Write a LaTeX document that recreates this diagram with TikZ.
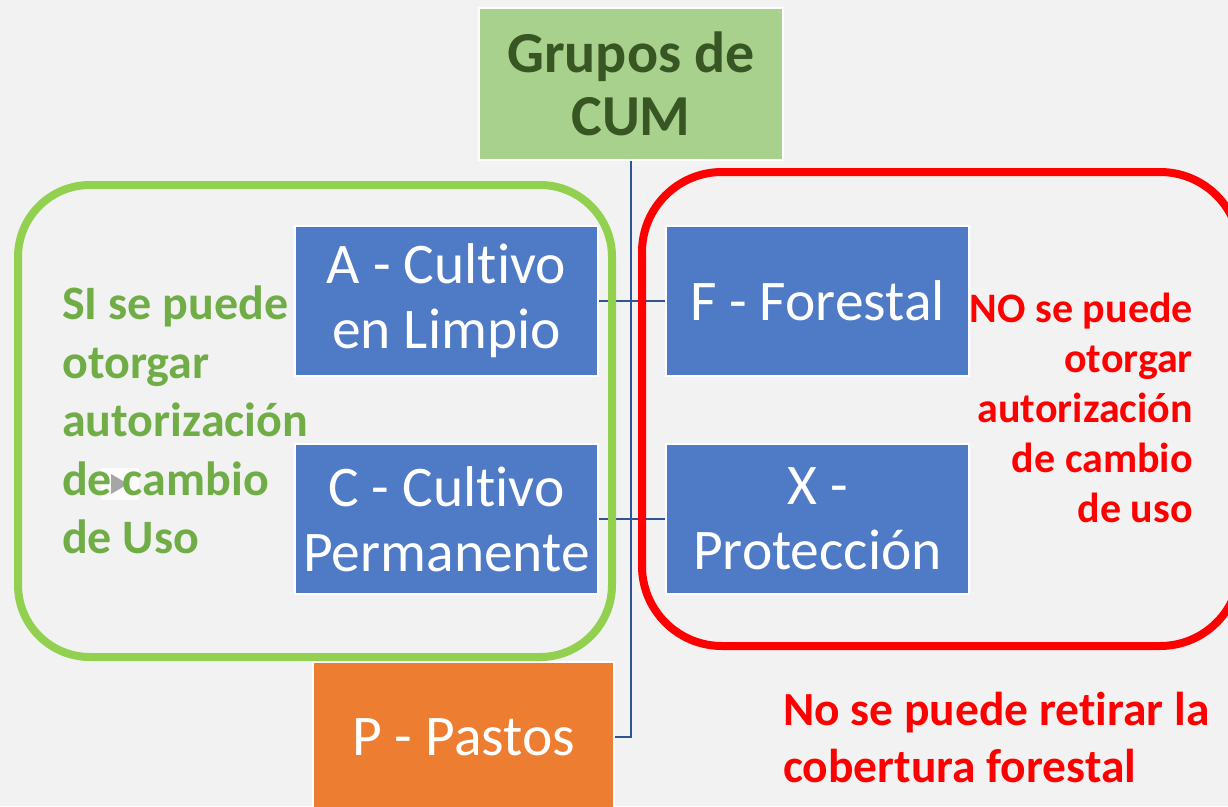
\documentclass[tikz,border=0pt]{standalone}
\usepackage{fontspec}
\setmainfont{Carlito}[Ligatures=NoCommon]
\usetikzlibrary{positioning}

\definecolor{fondo}{HTML}{F2F2F2}
\definecolor{azul}{HTML}{4F7AC6}
\definecolor{naranja}{HTML}{ED7D31}
\definecolor{verdetitulo}{HTML}{A9D18E}
\definecolor{verdeoscuro}{HTML}{375623}
\definecolor{verdetexto}{HTML}{70AD47}
\definecolor{verdemarco}{HTML}{92D050}
\definecolor{rojo}{HTML}{FF0000}
\definecolor{linea}{HTML}{2F5597}

\begin{document}
\begin{tikzpicture}[x=1pt, y=-1pt,
	caja/.style={draw=white, line width=2pt, fill=azul, minimum width=303pt, minimum height=150pt,
		align=center, inner sep=0pt, text=white, font=\fontsize{57.5}{65}\selectfont},
	conector/.style={draw=linea, line width=2.5pt},
	marco/.style={line width=8pt, rounded corners=72pt},
	nota/.style={inner sep=0pt, font=\bfseries}]

	\fill[fondo] (0,0) rectangle (1228,806);
	\useasboundingbox (0,0) rectangle (1228,806);
	\clip (0,0) rectangle (1228,806);

	\node[caja, fill=verdetitulo, text=verdeoscuro, minimum width=304pt, minimum height=152pt,
		font=\bfseries\fontsize{58}{63}\selectfont] (grupos) at (631,84) {Grupos de\\CUM};

	\node[caja] (A) at (446.5,301) {A - Cultivo\\en Limpio};
	\node[caja, below=66pt of A] (C) {C - Cultivo\\Permanente};
	\node[caja, right=66pt of A] (F) {F - Forestal};
	\node[caja, right=66pt of C] (X) {X -\\Protección};
	\node[caja, fill=naranja, minimum width=301pt, below=66pt of C, xshift=17pt] (P) {P - Pastos};

	\draw[conector] (grupos.south) |- (P.east);
	\draw[conector] (A.east) -- (F.west);
	\draw[conector] (C.east) -- (X.west);

	\draw[marco, verdemarco] (18,185) rectangle (612,657);
	\draw[marco, rojo, rounded corners=80pt] (642,172) rectangle (1240,646);

	\fill[white, opacity=.8] (101,468) rectangle (139,500);
	\fill[gray!70] (111,474) -- (128,484) -- (111,494) -- cycle;

	\node[nota, text=verdetexto, anchor=north west, align=left, font=\bfseries\fontsize{48}{58.5}\selectfont]
		(si) at (62,286) {SI se puede\\otorgar\\autorización\\de cambio\\de Uso};
	\node[nota, text=rojo, anchor=north east, align=right, font=\bfseries\fontsize{42}{50}\selectfont]
		(no) at (1193,293) {NO se puede\\otorgar\\autorización\\de cambio\\de uso};
	\node[nota, text=rojo, anchor=north west, align=left, font=\bfseries\fontsize{47.5}{57}\selectfont]
		(retirar) at (783,692) {No se puede retirar la\\cobertura forestal};
\end{tikzpicture}
\end{document}
